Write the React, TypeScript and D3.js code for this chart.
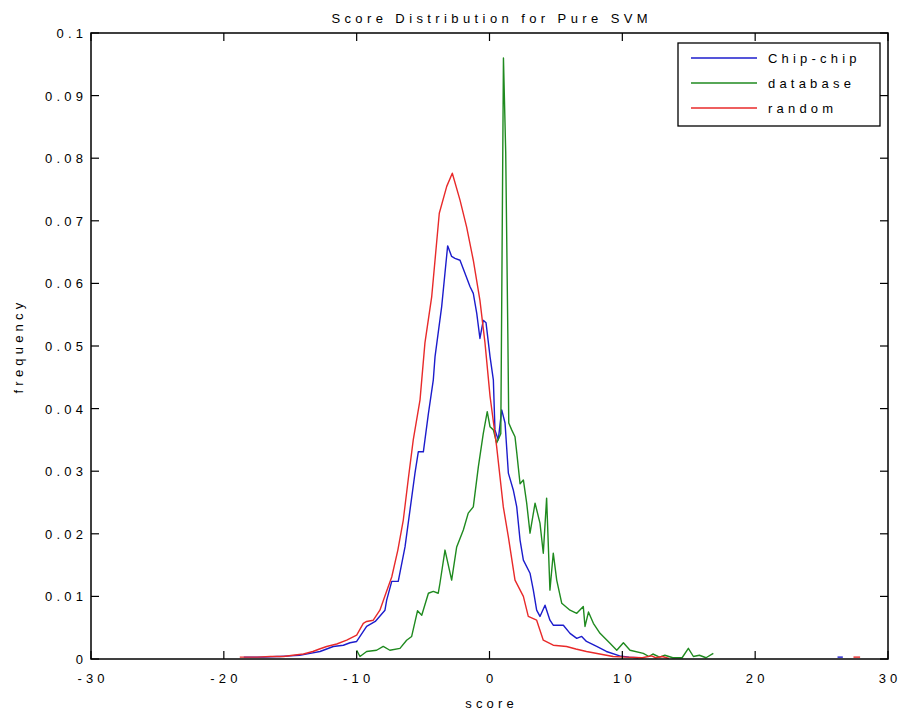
import React from "react";
import * as d3 from "d3";

const title = "Score Distribution for Pure SVM";
const xLabel = "score";
const yLabel = "frequency";

const xTicks = [-30, -20, -10, 0, 10, 20, 30];
const xTickLabels = ["-30", "-20", "-10", "0", "10", "20", "30"];
const yTicks = [0, 0.01, 0.02, 0.03, 0.04, 0.05, 0.06, 0.07, 0.08, 0.09, 0.1];
const yTickLabels = ["0", "0.01", "0.02", "0.03", "0.04", "0.05", "0.06", "0.07", "0.08", "0.09", "0.1"];

const seriesNames = ["Chip-chip", "database", "random"];
const seriesColors = ["#1c1ccc", "#1f8a1f", "#e82a2a"];

// [score, frequency]
const chipChip: [number, number][] = [
  [-18.5, 0.0003], [-17, 0.0003], [-16, 0.0004], [-15.8, 0.0004], [-15, 0.0005], [-14.3, 0.0006],
  [-13.5, 0.0009], [-12.76, 0.0012], [-11.76, 0.002], [-11, 0.0022], [-10.5, 0.0026], [-10, 0.0028],
  [-9.25, 0.0052], [-8.6, 0.006], [-7.87, 0.0078], [-7.74, 0.0094], [-7.36, 0.0124], [-6.87, 0.0124],
  [-6.36, 0.0179], [-5.61, 0.0297], [-5.36, 0.0331], [-4.98, 0.0331], [-4.6, 0.0392], [-4.23, 0.0446],
  [-4.1, 0.0483], [-3.6, 0.0563], [-3.35, 0.0617], [-3.15, 0.066], [-2.85, 0.0643], [-2.6, 0.064],
  [-2.22, 0.0637], [-1.84, 0.0616], [-1.47, 0.0595], [-1.22, 0.0584], [-0.96, 0.0552], [-0.72, 0.0512],
  [-0.47, 0.0541], [-0.26, 0.0537], [0.04, 0.0483], [0.29, 0.0446], [0.41, 0.0366], [0.66, 0.035],
  [0.92, 0.0398], [1.17, 0.0377], [1.42, 0.0297], [1.79, 0.027], [2.05, 0.0243], [2.3, 0.019],
  [2.55, 0.0158], [3.05, 0.0137], [3.3, 0.011], [3.55, 0.0078], [3.8, 0.0068], [4.18, 0.0086],
  [4.55, 0.0062], [4.8, 0.0054], [5.56, 0.0054], [6.06, 0.0041], [6.57, 0.0033], [6.94, 0.0036],
  [7.3, 0.0028], [8.07, 0.002], [8.8, 0.0012], [9.8, 0.0005], [10.5, 0.0003], [11.2, 0.0002],
];
const chipChipTail: [number, number][] = [[26.2, 0.0003], [26.6, 0.0003]];

const database: [number, number][] = [
  [-10, 0.0014], [-9.75, 0.0004], [-9.25, 0.0012], [-8.5, 0.0014], [-8, 0.002], [-7.5, 0.0014],
  [-6.74, 0.0017], [-6.24, 0.003], [-5.86, 0.0036], [-5.42, 0.0077], [-5.1, 0.007], [-4.6, 0.0105],
  [-4.23, 0.0108], [-3.86, 0.0105], [-3.73, 0.0121], [-3.35, 0.0174], [-2.85, 0.0126], [-2.47, 0.0179],
  [-1.97, 0.0206], [-1.6, 0.0233], [-1.22, 0.0243], [-0.84, 0.0307], [-0.47, 0.036], [-0.17, 0.0395],
  [0.04, 0.0371], [0.29, 0.0366], [0.54, 0.0345], [0.85, 0.036], [1.05, 0.096], [1.22, 0.081],
  [1.38, 0.052], [1.45, 0.0377], [1.67, 0.0366], [1.92, 0.0355], [2.05, 0.033], [2.3, 0.028],
  [2.55, 0.0286], [2.8, 0.0249], [3.05, 0.0201], [3.43, 0.0249], [3.8, 0.0217], [4.05, 0.0169],
  [4.3, 0.0257], [4.55, 0.011], [4.8, 0.0169], [5.06, 0.0126], [5.44, 0.0089], [6.06, 0.0078],
  [6.57, 0.0073], [7.06, 0.0084], [7.19, 0.0052], [7.45, 0.0075], [7.82, 0.0057], [8.32, 0.0041],
  [9.07, 0.0025], [9.58, 0.0014], [10.08, 0.0026], [10.58, 0.0014], [11.58, 0.0009], [12.0, 0.0004],
  [12.3, 0.0008], [12.8, 0.0003], [13.2, 0.0006], [13.8, 0.0002], [14.5, 0.0002], [14.97, 0.0017],
  [15.35, 0.0004], [15.8, 0.0006], [16.3, 0.0002], [16.85, 0.0009],
];

const random: [number, number][] = [
  [-18.8, 0.0003], [-17.5, 0.0003], [-16.5, 0.0004], [-15.5, 0.0004], [-14.8, 0.0006], [-14, 0.0008],
  [-13.3, 0.0012], [-12.8, 0.0016], [-12.26, 0.002], [-11.5, 0.0024], [-10.75, 0.003], [-10, 0.0038],
  [-9.5, 0.0057], [-9.25, 0.006], [-8.75, 0.0062], [-8.25, 0.0078], [-7.8, 0.0105], [-7.36, 0.0131],
  [-6.9, 0.0174], [-6.49, 0.0222], [-6.1, 0.029], [-5.74, 0.035], [-5.23, 0.0414], [-4.86, 0.0505],
  [-4.35, 0.0579], [-3.78, 0.0712], [-3.22, 0.0755], [-2.8, 0.0776], [-2.22, 0.0733], [-1.72, 0.069],
  [-1.22, 0.0637], [-0.72, 0.0573], [-0.34, 0.0505], [0.04, 0.042], [0.54, 0.0339], [1.04, 0.0243],
  [1.42, 0.0195], [1.92, 0.0126], [2.55, 0.01], [2.92, 0.0068], [3.55, 0.0062], [3.8, 0.0046],
  [4.05, 0.003], [4.8, 0.0022], [5.8, 0.002], [6.5, 0.0016], [7.3, 0.0012], [8.3, 0.0008],
  [9.3, 0.0004], [10.3, 0.0003], [11.5, 0.0002], [12.2, 0.0005], [12.5, 0.0002], [13.0, 0.0004], [13.5, 0.0001],
];
const randomTail: [number, number][] = [[27.4, 0.0003], [27.9, 0.0003]];

const W = 907;
const H = 715;
const left = 91, right = 888, top = 33, bottom = 659;
const font = "'Liberation Sans', Arial, sans-serif";
const ls = 4.2;

export default function App() {
  const x = d3.scaleLinear().domain([-30, 30]).range([left, right]);
  const y = d3.scaleLinear().domain([0, 0.1]).range([bottom, top]);
  const line = d3.line<[number, number]>().x((d) => x(d[0])).y((d) => y(d[1]));
  const tickLen = 8;

  const series = [
    { data: chipChip, color: seriesColors[0] },
    { data: chipChipTail, color: seriesColors[0] },
    { data: database, color: seriesColors[1] },
    { data: random, color: seriesColors[2] },
    { data: randomTail, color: seriesColors[2] },
  ];

  const textStyle = { fontFamily: font, fontSize: 13, letterSpacing: ls, fill: "#000" } as const;
  const titleStyle = { ...textStyle, letterSpacing: 4.4 } as const;

  return (
    <svg width={W} height={H} style={{ position: "absolute", left: 0, top: 0, background: "#fff" }}>
      <rect x={0} y={0} width={W} height={H} fill="#fff" />
      <text x={(left + right) / 2 + 2.2} y={23} textAnchor="middle" style={titleStyle}>{title}</text>

      {series.map((s, i) => (
        <path key={i} d={line(s.data) || ""} fill="none" stroke={s.color} strokeWidth={1.4} strokeLinejoin="round" />
      ))}

      <rect x={left} y={top} width={right - left} height={bottom - top} fill="none" stroke="#000" strokeWidth={1.5} />

      {xTicks.map((t, i) => (
        <g key={"x" + i}>
          <line x1={x(t)} x2={x(t)} y1={bottom} y2={bottom - tickLen} stroke="#000" strokeWidth={1.2} />
          <line x1={x(t)} x2={x(t)} y1={top} y2={top + tickLen} stroke="#000" strokeWidth={1.2} />
          <text x={x(t) + ls / 2} y={683} textAnchor="middle" style={textStyle}>{xTickLabels[i]}</text>
        </g>
      ))}
      {yTicks.map((t, i) => (
        <g key={"y" + i}>
          <line x1={left} x2={left + tickLen} y1={y(t)} y2={y(t)} stroke="#000" strokeWidth={1.2} />
          <line x1={right} x2={right - tickLen} y1={y(t)} y2={y(t)} stroke="#000" strokeWidth={1.2} />
          <text x={83 + ls} y={y(t) + 5} textAnchor="end" style={textStyle}>{yTickLabels[i]}</text>
        </g>
      ))}

      <text x={(left + right) / 2 + ls / 2} y={708} textAnchor="middle" style={textStyle}>{xLabel}</text>
      <text transform={`translate(23,${(top + bottom) / 2}) rotate(-90)`} textAnchor="middle" style={textStyle}>{yLabel}</text>

      <g>
        <rect x={678} y={43} width={202} height={83} fill="#fff" stroke="#000" strokeWidth={1.3} />
        {seriesNames.map((n, i) => (
          <g key={n}>
            <line x1={691} x2={757} y1={58 + i * 25} y2={58 + i * 25} stroke={seriesColors[i]} strokeWidth={1.4} />
            <text x={768} y={58 + i * 25 + 5} style={textStyle}>{n}</text>
          </g>
        ))}
      </g>
    </svg>
  );
}
